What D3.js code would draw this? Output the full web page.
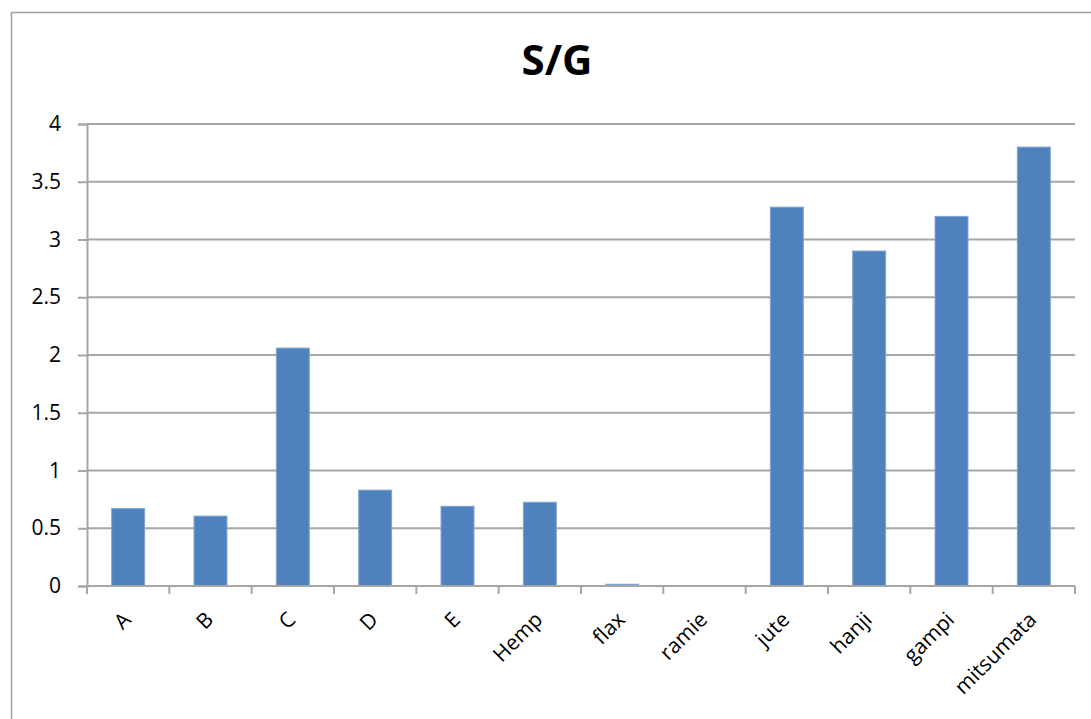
<!DOCTYPE html>
<html>
<head>
<meta charset="utf-8">
<script src="https://cdn.jsdelivr.net/npm/d3@7/dist/d3.min.js"></script>
<style>
  html, body { margin: 0; padding: 0; background: #fff; }
  svg { display: block; }
  text { font-family: "Open Sans", Lato, "Liberation Sans", sans-serif; fill: #000; }
</style>
</head>
<body>
<svg id="chart" width="1091" height="719"></svg>
<script>
// S/G ratio per fibre sample
const categories = ["A", "B", "C", "D", "E", "Hemp", "flax", "ramie", "jute", "hanji", "gampi", "mitsumata"];
const sgValues = [0.67, 0.605, 2.06, 0.83, 0.69, 0.725, 0.015, 0, 3.28, 2.9, 3.2, 3.8];
const yTicks = [0, 0.5, 1, 1.5, 2, 2.5, 3, 3.5, 4];
const yTickLabels = ["0", "0.5", "1", "1.5", "2", "2.5", "3", "3.5", "4"];
const title = "S/G";

const svg = d3.select("#chart");
const W = 1091, H = 719;
const plot = { left: 87, right: 1075, top: 124, bottom: 586 };
const gridColor = "#a6a6a6";

// chart-area frame
svg.append("rect")
  .attr("x", 11.5).attr("y", 12.5)
  .attr("width", W + 20).attr("height", H + 20)
  .attr("fill", "#fff").attr("stroke", "#a0a0a0").attr("stroke-width", 1.5);

const x = d3.scaleBand().domain(categories).range([plot.left, plot.right]).paddingInner(0.6).paddingOuter(0.3);
const xTickScale = d3.scaleBand().domain(categories).range([plot.left, plot.right]);
const y = d3.scaleLinear().domain([0, 4]).range([plot.bottom, plot.top]);

// horizontal gridlines
svg.append("g").selectAll("line").data(yTicks.filter(d => d > 0)).join("line")
  .attr("x1", plot.left).attr("x2", plot.right)
  .attr("y1", d => y(d)).attr("y2", d => y(d))
  .attr("stroke", gridColor).attr("stroke-width", 2);

// y axis
const yAxis = d3.axisLeft(y).tickValues(yTicks)
  .tickFormat((d, i) => yTickLabels[i]).tickSize(9).tickPadding(17);
const gy = svg.append("g").attr("transform", `translate(${plot.left},0)`).call(yAxis);
gy.select(".domain").attr("stroke", gridColor).attr("stroke-width", 2);
gy.selectAll(".tick line").attr("stroke", gridColor).attr("stroke-width", 2);
gy.selectAll(".tick text").style("font-size", "21px").attr("fill", "#000")
  .style("font-family", "'Open Sans', sans-serif");

// bars
svg.append("g").selectAll("rect").data(sgValues).join("rect")
  .attr("x", (d, i) => x(categories[i]))
  .attr("width", x.bandwidth())
  .attr("y", d => y(d))
  .attr("height", d => y(0) - y(d))
  .attr("fill", "#4f81bd")
  .attr("stroke", "#7ea2d2").attr("stroke-width", 1);

// x axis with category boundary ticks
const gx = svg.append("g").attr("transform", `translate(0,${plot.bottom})`);
gx.append("line").attr("x1", plot.left).attr("x2", plot.right)
  .attr("stroke", gridColor).attr("stroke-width", 2);
const boundaries = categories.map(c => xTickScale(c)).concat([plot.right]);
gx.selectAll("line.tk").data(boundaries).join("line").attr("class", "tk")
  .attr("x1", d => d).attr("x2", d => d).attr("y1", 0).attr("y2", 8)
  .attr("stroke", gridColor).attr("stroke-width", 2);
gx.selectAll("text").data(categories).join("text")
  .attr("text-anchor", "end")
  .attr("transform", c => `translate(${xTickScale(c) + xTickScale.bandwidth() / 2 + 4},${35}) rotate(-45)`)
  .style("font-size", "21px")
  .text(c => c);

// title
svg.append("text").attr("x", 557).attr("y", 75)
  .attr("text-anchor", "middle")
  .style("font-size", "42px").style("font-weight", "bold")
  .text(title);
</script>
</body>
</html>
